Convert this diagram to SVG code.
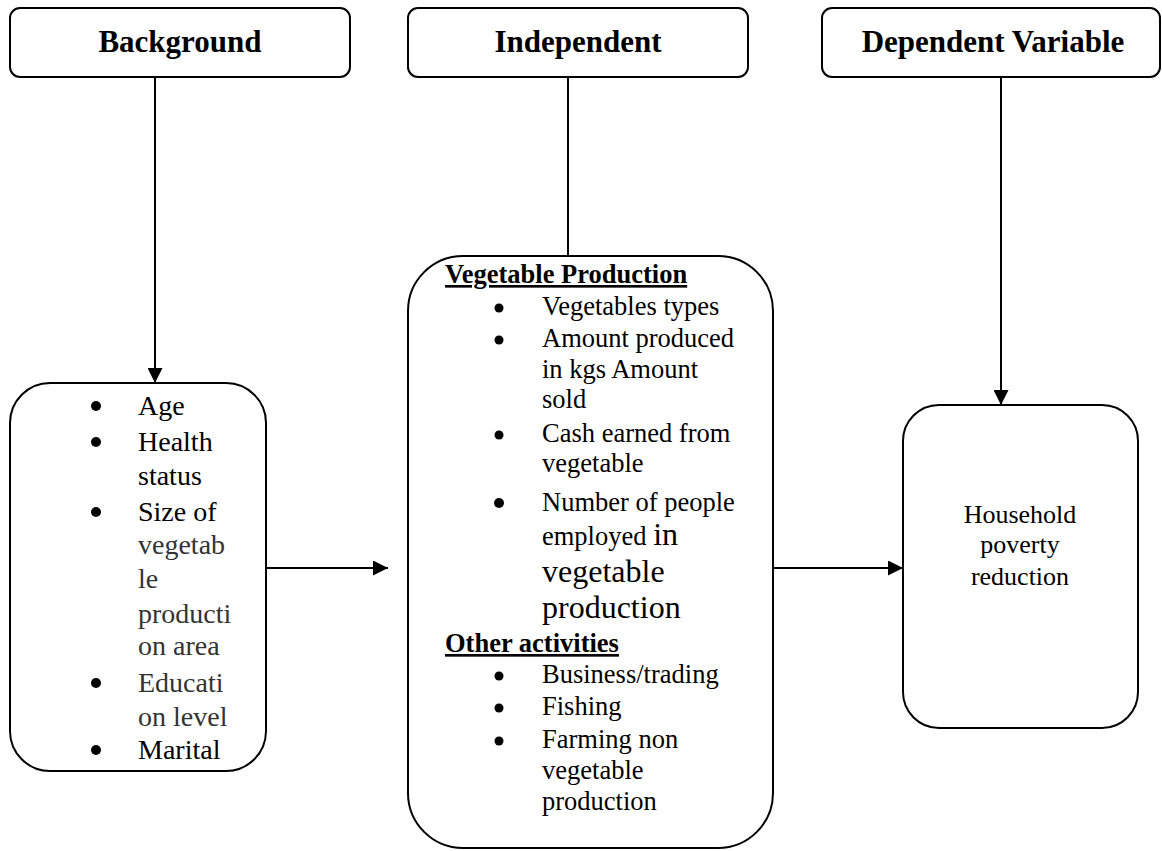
<svg xmlns="http://www.w3.org/2000/svg" width="1162" height="851" viewBox="0 0 1162 851">
<style>
.box{fill:#fff;stroke:#000;stroke-width:2}
.t{font-family:"Liberation Serif","Times New Roman",serif;fill:#000}
.h{font-size:31px;font-weight:bold;text-anchor:middle}
.l{font-size:28px}
.m{font-size:26.5px}
.big{font-size:32px}
.hd{font-size:26.5px;font-weight:bold;text-decoration:underline}
.c{stroke:#000;stroke-width:2;fill:none}
</style>
<defs>
<marker id="ah" viewBox="0 0 10 10" refX="10" refY="5" markerWidth="15" markerHeight="15" markerUnits="userSpaceOnUse" orient="auto">
<path d="M0,0 L10,5 L0,10 z" fill="#000"/>
</marker>
</defs>
<rect width="1162" height="851" fill="#fff"/>
<g id="connectors">
<line class="c" x1="155" y1="77" x2="155" y2="383" marker-end="url(#ah)"/>
<line class="c" x1="568" y1="77" x2="568" y2="256"/>
<line class="c" x1="1001" y1="77" x2="1001" y2="405" marker-end="url(#ah)"/>
<line class="c" x1="266" y1="568" x2="388" y2="568" marker-end="url(#ah)"/>
<line class="c" x1="773" y1="568" x2="903" y2="568" marker-end="url(#ah)"/>
</g>
<g id="background">
<rect class="box" x="10" y="8" width="340" height="69" rx="10"/>
<text class="t h" x="180" y="52">Background</text>
</g>
<g id="independent">
<rect class="box" x="408" y="8" width="340" height="69" rx="10"/>
<text class="t h" x="578" y="52">Independent</text>
</g>
<g id="dependent">
<rect class="box" x="822" y="8" width="338" height="69" rx="10"/>
<text class="t h" x="993" y="52">Dependent Variable</text>
</g>
<g id="background-items">
<rect class="box" x="10" y="383" width="256" height="388" rx="40"/>
<g class="t l">
<circle cx="96" cy="406" r="5"/><text x="138" y="415">Age</text>
<circle cx="96" cy="442" r="5"/><text x="138" y="451">Health</text>
<text x="138" y="485">status</text>
<circle cx="96" cy="512" r="5"/><text x="138" y="521">Size of</text>
<text x="138" y="554" fill="#333">vegetab</text>
<text x="138" y="588" fill="#333">le</text>
<text x="138" y="623" fill="#333">producti</text>
<text x="138" y="655" fill="#333">on area</text>
<circle cx="96" cy="683" r="5"/><text x="138" y="692" fill="#333">Educati</text>
<text x="138" y="726" fill="#333">on level</text>
<circle cx="96" cy="750" r="5"/><text x="138" y="759">Marital</text>
</g>
</g>
<g id="independent-items">
<rect class="box" x="408" y="256" width="365" height="592" rx="55"/>
<g class="t">
<text class="hd" x="445" y="283">Vegetable Production</text>
<circle cx="499" cy="308" r="4.5"/><text class="m" x="542" y="315">Vegetables types</text>
<circle cx="499" cy="340" r="4.5"/><text class="m" x="542" y="347">Amount produced</text>
<text class="m" x="542" y="378">in kgs Amount</text>
<text class="m" x="542" y="408">sold</text>
<circle cx="499" cy="435" r="4.5"/><text class="m" x="542" y="442">Cash earned from</text>
<text class="m" x="542" y="472">vegetable</text>
<circle cx="499" cy="503" r="5"/><text class="m" x="542" y="511">Number of people</text>
<text x="542" y="545"><tspan class="m">employed </tspan><tspan class="big">in</tspan></text>
<text class="big" x="542" y="582">vegetable</text>
<text class="big" x="542" y="618">production</text>
<text class="hd" x="445" y="652">Other activities</text>
<circle cx="499" cy="676" r="4.5"/><text class="m" x="542" y="683">Business/trading</text>
<circle cx="499" cy="708" r="4.5"/><text class="m" x="542" y="715">Fishing</text>
<circle cx="499" cy="741" r="4.5"/><text class="m" x="542" y="748">Farming non</text>
<text class="m" x="542" y="779">vegetable</text>
<text class="m" x="542" y="810">production</text>
</g>
</g>
<g id="outcome">
<rect class="box" x="903" y="405" width="235" height="323" rx="36"/>
<g class="t" font-size="26" text-anchor="middle">
<text x="1020" y="523">Household</text>
<text x="1020" y="553">poverty</text>
<text x="1020" y="585">reduction</text>
</g>
</g>
</svg>
